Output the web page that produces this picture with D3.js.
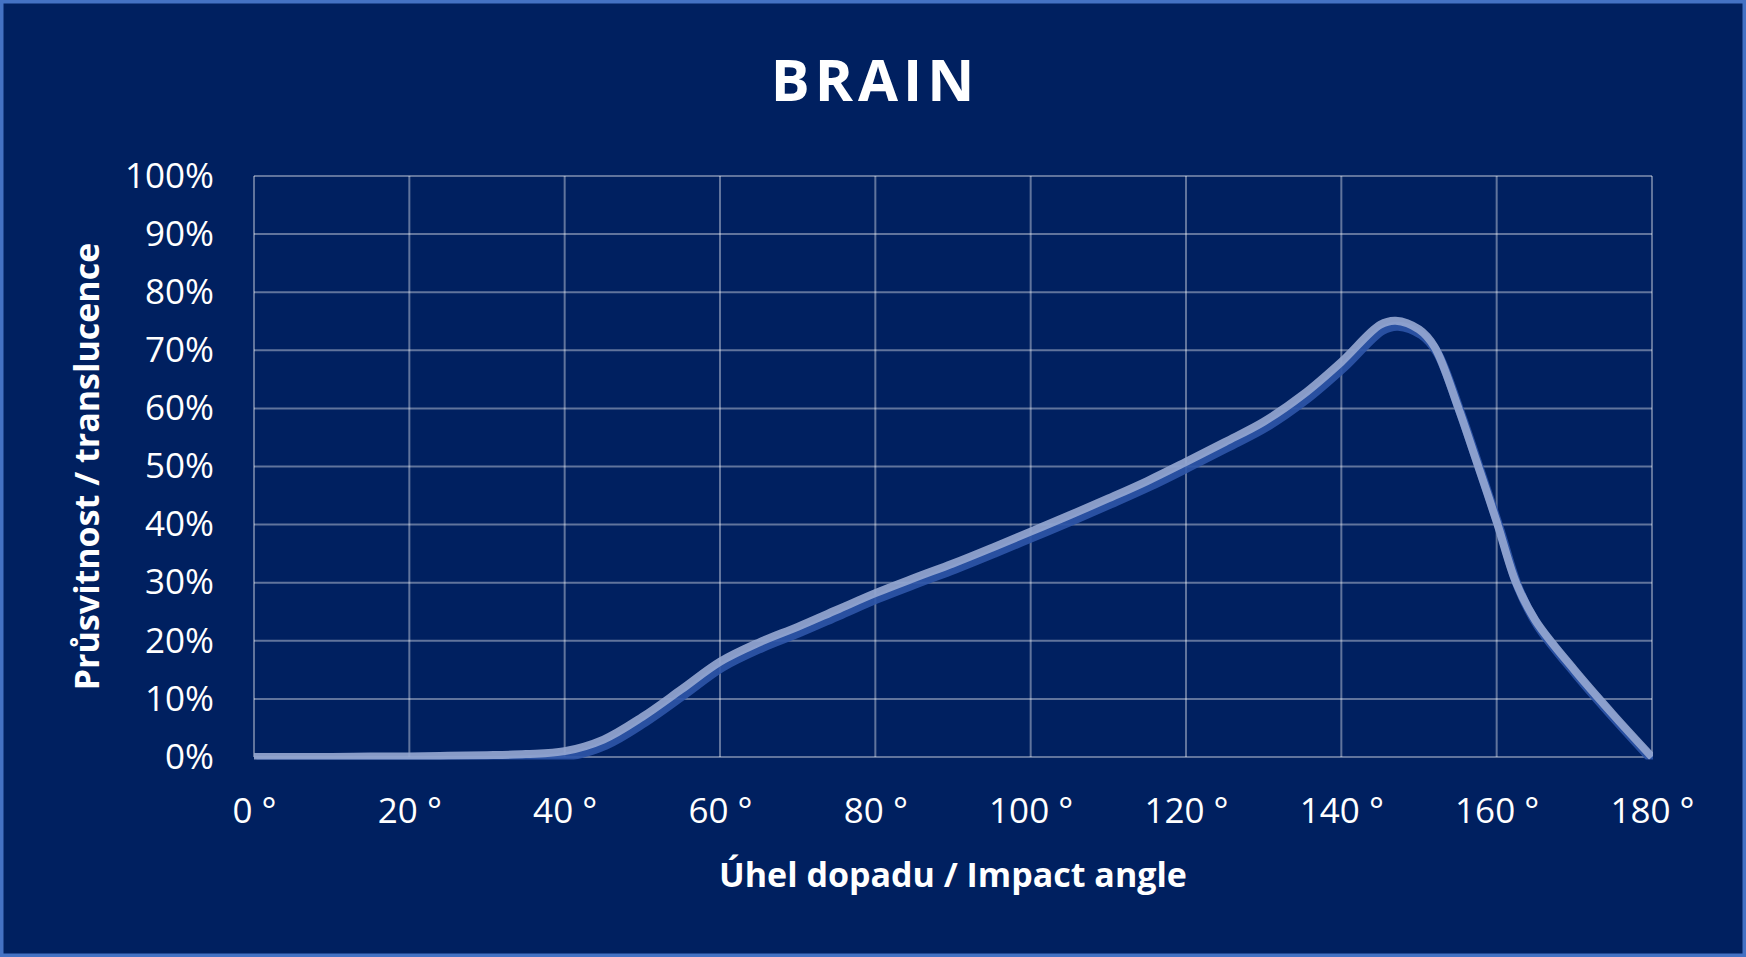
<!DOCTYPE html>
<html>
<head>
<meta charset="utf-8">
<title>BRAIN</title>
<script src="https://cdn.jsdelivr.net/npm/d3@7"></script>
<style>
    html, body { margin: 0; padding: 0; background: #002060; }
    svg { display: block; }
</style>
</head>
<body>
<div id="chart"></div>
<script>
// angles of impact (degrees) and translucence (%)
var angles = [0, 5, 10, 15, 20, 25, 30, 35, 40, 45, 50, 55, 60, 65, 70, 75, 80, 85, 90, 95,
    100, 105, 110, 115, 120, 125, 130, 135, 140, 145, 147, 150, 152, 155, 157, 160, 162.5,
    165, 170, 175, 180];
var translucence = [0, 0, 0, 0.1, 0.1, 0.2, 0.3, 0.5, 1, 3, 6.9, 11.6, 16.4, 19.7, 22.4, 25.3,
    28.2, 30.8, 33.3, 36, 38.8, 41.6, 44.5, 47.5, 50.8, 54.2, 57.7, 62.3, 68, 74.4, 75.1, 73.6,
    70.6, 60.3, 52.5, 40.5, 30, 23.5, 15, 7.3, 0];

var xTicks = [0, 20, 40, 60, 80, 100, 120, 140, 160, 180];
var yTicks = [0, 10, 20, 30, 40, 50, 60, 70, 80, 90, 100];

var titleText = "BRAIN";
var xTitle = "Úhel dopadu / Impact angle";
var yTitle = "Průsvitnost / translucence";

var width = 1746,
    height = 957,
    plot = { left: 254, right: 1652, top: 176, bottom: 757 },
    font = "'Open Sans', 'Noto Sans', sans-serif";

var svg = d3.select("#chart")
    .append("svg")
    .attr("width", width)
    .attr("height", height);

// background with the light blue frame
svg.append("rect")
    .attr("x", 1.75)
    .attr("y", 1.75)
    .attr("width", width - 3.5)
    .attr("height", height - 3.5)
    .attr("fill", "#002060")
    .attr("stroke", "#4472c4")
    .attr("stroke-width", 3.5);

var x = d3.scaleLinear().domain([0, 180]).range([plot.left, plot.right]);
var y = d3.scaleLinear().domain([0, 100]).range([plot.bottom, plot.top]);

// grid
var grid = svg.append("g")
    .attr("stroke", "#ffffff")
    .attr("stroke-opacity", 0.38)
    .attr("stroke-width", 2);

grid.selectAll("line.h")
    .data(yTicks)
    .enter()
    .append("line")
    .attr("class", "h")
    .attr("x1", plot.left)
    .attr("x2", plot.right)
    .attr("y1", function (d) { return y(d); })
    .attr("y2", function (d) { return y(d); });

grid.selectAll("line.v")
    .data(xTicks)
    .enter()
    .append("line")
    .attr("class", "v")
    .attr("x1", function (d) { return x(d); })
    .attr("x2", function (d) { return x(d); })
    .attr("y1", plot.top)
    .attr("y2", plot.bottom);

// axes, only the labels are visible
var yAxis = svg.append("g")
    .attr("transform", "translate(" + plot.left + ",0)")
    .call(d3.axisLeft(y)
        .tickValues(yTicks)
        .tickSize(0)
        .tickPadding(40)
        .tickFormat(function (d) { return d + "%"; }));

var xAxis = svg.append("g")
    .attr("transform", "translate(0," + plot.bottom + ")")
    .call(d3.axisBottom(x)
        .tickValues(xTicks)
        .tickSize(0)
        .tickPadding(41)
        .tickFormat(function (d) { return d + " °"; }));

[xAxis, yAxis].forEach(function (a) {
    a.select(".domain").remove();
    a.selectAll("text")
        .attr("fill", "#ffffff")
        .style("font-family", font)
        .style("font-size", "35px");
});

// the curve, clipped to the plot area
svg.append("clipPath")
    .attr("id", "plotClip")
    .append("rect")
    .attr("x", plot.left - 4)
    .attr("y", plot.top - 10)
    .attr("width", plot.right - plot.left + 5)
    .attr("height", plot.bottom - plot.top + 12.5);

var points = angles.map(function (a, i) { return [a, translucence[i]]; });

var line = d3.line()
    .x(function (d) { return x(d[0]); })
    .y(function (d) { return y(d[1]); })
    .curve(d3.curveCatmullRom.alpha(0.5));

var curve = svg.append("g").attr("clip-path", "url(#plotClip)");

// shadow below the line
curve.append("path")
    .datum(points)
    .attr("d", line)
    .attr("transform", "translate(2.5,5.5)")
    .attr("fill", "none")
    .attr("stroke", "#2e55a8")
    .attr("stroke-opacity", 0.9)
    .attr("stroke-width", 9);

curve.append("path")
    .datum(points)
    .attr("d", line)
    .attr("fill", "none")
    .attr("stroke", "#94a6d0")
    .attr("stroke-opacity", 0.92)
    .attr("stroke-width", 8);

// titles
svg.append("text")
    .attr("x", width / 2 + 2)
    .attr("y", 101)
    .attr("text-anchor", "middle")
    .attr("fill", "#ffffff")
    .style("font-family", font)
    .style("font-weight", "bold")
    .style("font-size", "58px")
    .style("letter-spacing", "5px")
    .text(titleText);

svg.append("text")
    .attr("x", (plot.left + plot.right) / 2)
    .attr("y", 887)
    .attr("text-anchor", "middle")
    .attr("fill", "#ffffff")
    .style("font-family", font)
    .style("font-weight", "bold")
    .style("font-size", "34px")
    .text(xTitle);

svg.append("text")
    .attr("transform", "translate(99," + (plot.top + plot.bottom) / 2 + ") rotate(-90)")
    .attr("text-anchor", "middle")
    .attr("fill", "#ffffff")
    .style("font-family", font)
    .style("font-weight", "bold")
    .style("font-size", "34px")
    .text(yTitle);
</script>
</body>
</html>
